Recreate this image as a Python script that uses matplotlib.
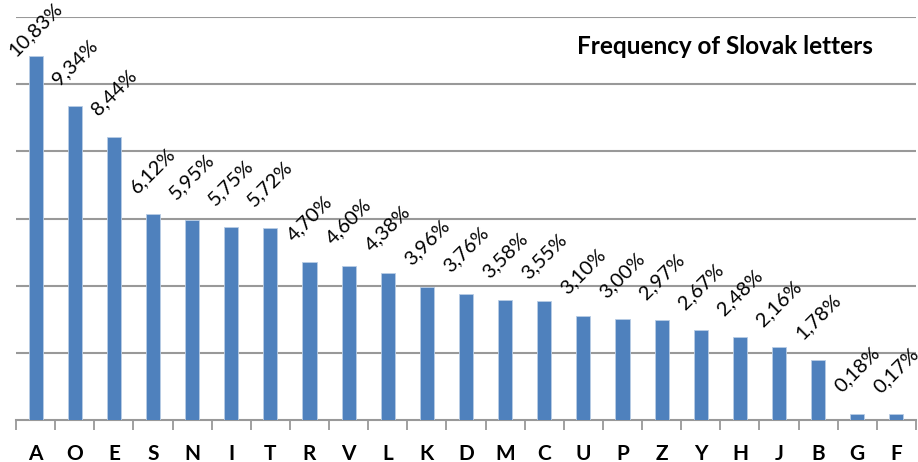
import numpy as np
import matplotlib.pyplot as plt

# data
letters = ["A", "O", "E", "S", "N", "I", "T", "R", "V", "L", "K", "D",
           "M", "C", "U", "P", "Z", "Y", "H", "J", "B", "G", "F"]
freq = [10.83, 9.34, 8.44, 6.12, 5.95, 5.75, 5.72, 4.70, 4.60, 4.38, 3.96, 3.76,
        3.58, 3.55, 3.10, 3.00, 2.97, 2.67, 2.48, 2.16, 1.78, 0.18, 0.17]

plt.rcParams['font.family'] = ['Lato', 'DejaVu Sans']

fig = plt.figure(figsize=(9.18, 4.62), dpi=100)
ax = fig.add_axes([16 / 918, 1 - 420 / 462, 900 / 918, 403 / 462])

x = np.arange(len(letters))
ax.bar(x, freq, width=0.36, color="#4F81BD", edgecolor="#B9CDE5",
       linewidth=0.6, zorder=3)

# data labels, rotated
for xi, v in zip(x, freq):
    y = min(v + 1.31, 11.64)
    ax.text(xi, y, f"{v:.2f}%".replace(".", ","), rotation=45,
            ha="center", va="center", fontsize=14.5, color="black")

ax.set_xlim(-0.5, len(letters) - 0.5)
ax.set_ylim(0, 12)

# horizontal gridlines
ax.set_yticks(np.arange(2, 13, 2))
ax.yaxis.grid(True, color="#999999", linewidth=1.5, zorder=0)
ax.tick_params(axis="y", left=False, labelleft=False)

# category ticks at boundaries
ax.set_xticks(x)
ax.set_xticklabels(letters, fontsize=15, fontweight="bold")
ax.set_xticks(np.arange(-0.5, len(letters), 1), minor=True)
ax.tick_params(axis="x", which="major", length=0, pad=17)
ax.tick_params(axis="x", which="minor", length=7, width=1.3, color="#999999")

for s in ["top", "right", "left"]:
    ax.spines[s].set_visible(False)
ax.spines["bottom"].set_color("#999999")
ax.spines["bottom"].set_linewidth(1.5)

fig.text(873 / 918, 1 - 46 / 462, "Frequency of Slovak letters",
         ha="right", va="center", fontsize=17.5, fontweight="bold")

fig.savefig("out.png", dpi=100)
